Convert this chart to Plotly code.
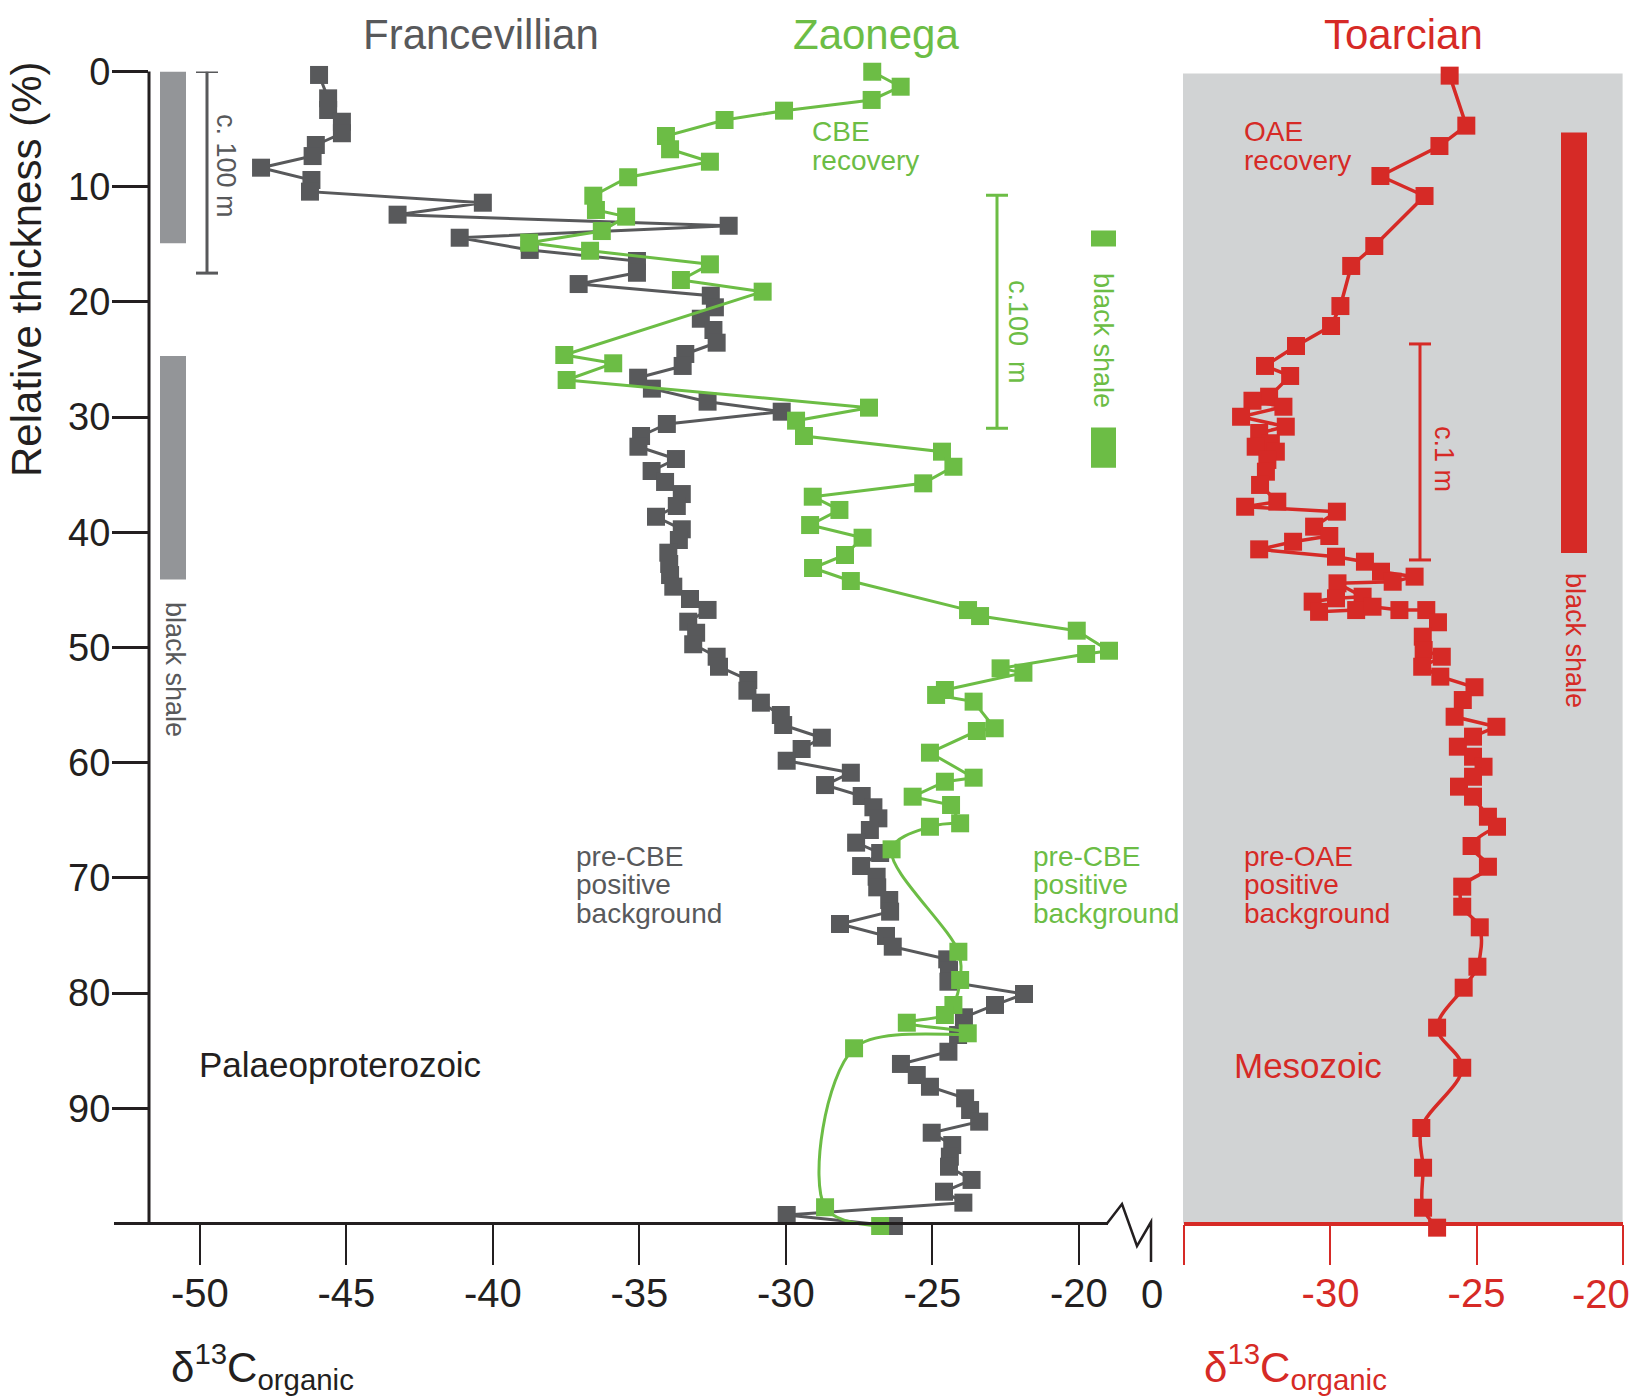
import plotly.graph_objects as go

# ---------------- data ----------------
gray_x = [-45.93,-45.62,-45.62,-45.15,-45.15,-46.04,-46.15,-47.91,-46.19,-46.24,
          -40.34,-43.25,-31.95,-41.13,-38.74,-35.08,-35.08,-37.07,-32.56,-32.42,
          -32.90,-32.47,-32.36,-33.43,-33.52,-35.04,-34.57,-32.67,-30.14,-34.06,
          -34.94,-35.03,-33.75,-34.58,-34.12,-33.55,-33.72,-34.43,-33.55,-33.65,
          -34.01,-33.98,-33.95,-33.84,-33.27,-32.67,-33.33,-33.06,-33.16,-32.36,
          -32.28,-31.28,-31.31,-30.85,-30.17,-30.09,-28.77,-29.46,-29.97,-27.78,
          -28.66,-27.41,-27.01,-26.84,-27.13,-27.60,-26.78,-27.43,-26.90,-26.88,
          -26.47,-26.44,-28.15,-26.58,-26.35,-24.49,-24.43,-24.45,-21.87,-22.86,
          -23.92,-24.12,-24.45,-26.07,-25.53,-25.08,-23.88,-23.71,-23.40,-25.02,
          -24.32,-24.40,-24.43,-23.66,-24.60,-23.94,-29.97,-26.31]
gray_y = [0.30,2.33,3.34,4.36,5.36,6.38,7.34,8.35,9.42,10.43,
          11.39,12.43,13.39,14.43,15.49,16.45,17.47,18.45,19.46,20.47,
          21.46,22.44,23.54,24.52,25.56,26.58,27.53,28.66,29.53,30.60,
          31.64,32.57,33.64,34.68,35.63,36.68,37.72,38.65,39.74,40.67,
          41.77,42.75,43.71,44.72,45.79,46.74,47.76,48.72,49.72,50.80,
          51.67,52.82,53.75,54.79,55.86,56.73,57.83,58.81,59.83,60.87,
          61.94,62.89,63.87,64.83,65.84,66.94,67.84,68.97,69.90,70.82,
          71.92,72.93,74.00,75.04,75.97,77.07,78.00,79.01,80.08,81.03,
          82.10,83.64,85.09,86.15,87.11,88.13,89.13,90.15,91.16,92.12,
          93.19,94.20,95.07,96.22,97.24,98.19,99.26,100.22]

green_x = [-27.05,-26.08,-27.07,-30.06,-32.09,-34.09,-33.95,-32.59,-35.38,-36.57,
           -36.48,-35.45,-36.28,-38.76,-36.68,-32.59,-33.58,-30.79,-37.56,-35.89,
           -37.48,-27.16,-29.65,-29.38,-24.67,-24.28,-25.31,-29.08,-28.17,-29.17,
           -27.38,-27.98,-29.07,-27.78,-23.78,-23.37,-20.07,-18.97,-19.75,-22.67,
           -21.89,-24.57,-24.87,-23.59,-22.87,-23.48,-25.08,-23.59,-24.57,-25.67,
           -24.36,-24.05,-25.08,-26.39,-24.11,-24.05,-24.28,-24.57,-25.87,-23.79,
           -27.67,-28.66,-26.78]
green_y = [0.02,1.32,2.47,3.40,4.21,5.60,6.75,7.83,9.18,10.78,
           12.02,12.60,13.85,14.86,15.56,16.74,18.10,19.11,24.61,25.33,
           26.78,29.18,30.31,31.64,33.00,34.31,35.75,36.91,38.06,39.37,
           40.47,41.97,43.10,44.23,46.75,47.27,48.54,50.28,50.56,51.81,
           52.19,53.69,54.12,54.70,57.01,57.25,59.13,61.30,61.65,62.95,
           63.67,65.26,65.56,67.52,76.41,78.86,81.03,81.90,82.57,83.49,
           84.79,98.59,100.22]

red_x = [-25.92,-25.35,-26.27,-28.29,-26.78,-28.50,-29.29,-29.66,-29.98,-31.18,
         -32.24,-31.38,-32.10,-32.67,-31.61,-33.06,-31.53,-32.44,-32.04,-32.56,
         -31.87,-32.16,-32.21,-32.41,-31.82,-32.92,
         -29.78,-30.56,-30.04,-31.28,-32.44,
         -29.81,-28.82,-28.27,-27.12,-27.87,-29.76,
         -28.90,-29.81,-30.61,-30.39,-29.12,-28.56,-27.64,-26.72,
         -26.32,-26.84,-26.81,-26.19,-26.86,-26.24,-25.07,-25.47,-25.75,-24.32,
         -25.12,-25.64,-25.12,-24.76,-25.12,-25.60,-25.12,-24.61,-24.30,-25.17,
         -24.61,-25.49,-25.49,-24.89,-24.97,-25.44,-26.35,-25.49,-26.89,-26.83,
         -26.83,-26.35]
red_y = [0.36,4.70,6.47,9.07,10.81,15.15,16.88,20.36,22.09,23.83,
         25.56,26.43,28.23,28.58,29.10,29.97,30.83,31.38,32.27,32.57,
         33.00,33.72,34.74,35.89,37.34,37.78,
         38.21,39.51,40.32,40.82,41.48,
         42.12,42.55,43.42,43.85,44.29,44.43,
         45.59,45.73,46.02,46.90,46.75,46.46,46.75,46.75,
         47.81,49.06,50.22,50.80,51.67,52.53,53.45,54.56,56.01,56.88,
         57.74,58.61,59.48,60.35,61.22,62.08,62.95,64.69,65.56,67.23,
         69.03,70.76,72.50,74.29,77.71,79.53,83.00,86.48,91.71,95.16,
         98.63,100.36]

left_ticks = [-50, -45, -40, -35, -30, -25, -20]
right_ticks = [-35, -30, -25, -20]
y_ticks = [0, 10, 20, 30, 40, 50, 60, 70, 80, 90]

gray_shale = [(0.0, 14.9), (24.7, 44.1)]
green_shale = [(13.8, 15.2), (30.9, 34.4)]
red_shale = [(5.3, 41.8)]
gray_scale = (0.0, 17.5)
green_scale = (10.75, 30.97)
red_scale = (23.65, 42.4)

# ---------------- style ----------------
W, H = 1632, 1399
GRAY = "#58595b"
GREEN = "#6cbd45"
RED = "#d62a26"
DARK = "#231f20"
SHALE_GRAY = "#939598"
BG = "#d1d3d4"
REG = "Liberation Sans, Arial, sans-serif"


def PX(x):
    return x / W


def PY(y):
    return 1 - y / H


# pixel geometry of the panels
Y_TOP, Y_BOT = 71.5, 1223.5          # y = 0 and y = 100
YPX = (Y_BOT - Y_TOP) / 100.0
Y_MAX = 101.0                         # a little room so the last squares stay visible
Y_DOM_BOT = Y_BOT + (Y_MAX - 100) * YPX
XPX = 29.3
AX_L = 149.0
X_L0 = -50 - (199.8 - AX_L) / XPX
X_R0 = -18.4
AX_R = AX_L + (X_R0 - X_L0) * XPX

fig = go.Figure()

def add_series(xs, ys, color, split, xaxis, lw):
    fig.add_trace(go.Scatter(x=xs[:split + 1], y=ys[:split + 1], mode="lines",
                             line=dict(color=color, width=lw), xaxis=xaxis, yaxis="y",
                             cliponaxis=False, showlegend=False, hoverinfo="skip"))
    fig.add_trace(go.Scatter(x=xs[split:], y=ys[split:], mode="lines",
                             line=dict(color=color, width=lw, shape="spline", smoothing=1.0),
                             xaxis=xaxis, yaxis="y",
                             cliponaxis=False, showlegend=False, hoverinfo="skip"))
    fig.add_trace(go.Scatter(x=xs, y=ys, mode="markers",
                             marker=dict(symbol="square", size=18, color=color, line=dict(width=0)),
                             xaxis=xaxis, yaxis="y",
                             cliponaxis=False, showlegend=False, hoverinfo="skip"))

add_series(gray_x, gray_y, GRAY, len(gray_x) - 1, "x", 3)
add_series(green_x, green_y, GREEN, 51, "x", 3)
add_series(red_x, red_y, RED, 63, "x2", 3.5)

shapes = []
shapes.append(dict(type="rect", xref="paper", yref="paper", x0=PX(1183), x1=PX(1622.6),
                   y0=PY(Y_BOT), y1=PY(73.5), fillcolor=BG, line=dict(width=0), layer="below"))

def shale(intervals, x0, x1, color):
    for a, b in intervals:
        shapes.append(dict(type="rect", xref="paper", yref="y", x0=PX(x0), x1=PX(x1),
                           y0=a, y1=b, fillcolor=color, line=dict(width=0), layer="above"))

shale(gray_shale, 160, 186, SHALE_GRAY)
shale(green_shale, 1091, 1116, GREEN)
shale(red_shale, 1561, 1587, RED)

def scalebar(rng, xc, color):
    a, b = rng
    shapes.append(dict(type="line", xref="paper", yref="y", x0=PX(xc), x1=PX(xc), y0=a, y1=b,
                       line=dict(color=color, width=3)))
    for v in (a, b):
        shapes.append(dict(type="line", xref="paper", yref="y", x0=PX(xc - 11), x1=PX(xc + 11),
                           y0=v, y1=v, line=dict(color=color, width=3)))

scalebar(gray_scale, 207, GRAY)
scalebar(green_scale, 997, GREEN)
scalebar(red_scale, 1420, RED)

# axis lines of the left panel (baseline with a break, vertical axis)
shapes.append(dict(type="line", xref="paper", yref="paper", x0=PX(114), x1=PX(1108),
                   y0=PY(Y_BOT), y1=PY(Y_BOT), line=dict(color=DARK, width=3)))
shapes.append(dict(type="line", xref="paper", yref="paper", x0=PX(AX_L), x1=PX(AX_L),
                   y0=PY(Y_BOT + 1.5), y1=PY(Y_TOP), line=dict(color=DARK, width=3)))
pts = [(1107, 1223.5), (1122, 1204), (1137, 1246), (1151, 1222), (1151, 1262)]
path = "M " + " L ".join(f"{PX(a):.5f},{PY(b):.5f}" for a, b in pts)
shapes.append(dict(type="path", xref="paper", yref="paper", path=path,
                   line=dict(color=DARK, width=2.5)))

ann = []

def txt(s, x, y, size, color, xanchor="left", angle=0):
    ann.append(dict(text=s, x=PX(x), y=PY(y), xref="paper", yref="paper", showarrow=False,
                    xanchor=xanchor, yanchor="middle", textangle=angle,
                    font=dict(family=REG, size=size, color=color)))

txt("Francevillian", 481, 35, 42, GRAY, "center")
txt("Zaonega", 876, 35, 42, GREEN, "center")
txt("Toarcian", 1403, 35, 42, RED, "center")
txt("Relative thickness (%)", 26, 270, 42, DARK, "center", -90)

txt("CBE", 810, 131, 28, GREEN)
txt("recovery", 810, 161, 28, GREEN)
txt("OAE", 1242, 131, 28, RED)
txt("recovery", 1242, 161, 28, RED)
offs = [0, 28, 57.5]
for i, w in enumerate(["pre-CBE", "positive", "background"]):
    txt(w, 574, 856 + offs[i], 28, GRAY)
    txt(w, 1031, 856 + offs[i], 28, GREEN)
for i, w in enumerate(["pre-OAE", "positive", "background"]):
    txt(w, 1242, 856 + offs[i], 28, RED)
txt("Palaeoproterozoic", 197, 1064, 35, DARK)
txt("Mesozoic", 1232, 1065, 35, RED)

txt("c. 100 m", 226, 166, 27, GRAY, "center", 90)
txt("black shale", 175, 669, 27, GRAY, "center", 90)
txt("c.100  m", 1018, 332, 27, GREEN, "center", 90)
txt("black shale", 1103, 340, 27, GREEN, "center", 90)
txt("c.1 m", 1444, 459, 27, RED, "center", 90)
txt("black shale", 1575, 640, 27, RED, "center", 90)

txt("0", 1152, 1294, 40, DARK, "center")
txt("-20", 1601, 1294, 40, RED, "center")
txt("δ<sup>13</sup>C<sub>organic</sub>", 169, 1366, 42, DARK, "left")
txt("δ<sup>13</sup>C<sub>organic</sub>", 1202, 1366, 42, RED, "left")

fig.update_layout(
    width=W, height=H, margin=dict(l=0, r=0, t=0, b=0, pad=0, autoexpand=False),
    paper_bgcolor="white", plot_bgcolor="rgba(0,0,0,0)",
    showlegend=False, shapes=shapes, annotations=ann,
    xaxis=dict(domain=[PX(AX_L), PX(AX_R)], range=[X_L0, X_R0], anchor="free",
               position=PY(Y_BOT), automargin=False,
               showline=False, ticks="outside", ticklen=40,
               tickwidth=2, tickcolor=DARK, tickvals=left_ticks,
               ticktext=[str(v) for v in left_ticks],
               tickfont=dict(family=REG, size=40, color=DARK), ticklabelstandoff=-6,
               showgrid=False, zeroline=False),
    xaxis2=dict(domain=[PX(1184.4), PX(1622.6)], range=[-35, -20], anchor="free",
                position=PY(Y_BOT), automargin=False,
                showline=True, linecolor=RED, linewidth=3.5, ticks="outside", ticklen=40,
                tickwidth=2, tickcolor=RED, tickvals=right_ticks,
                ticktext=["", "-30", "-25", ""],
                tickfont=dict(family=REG, size=40, color=RED), ticklabelstandoff=-6,
                showgrid=False, zeroline=False),
    yaxis=dict(domain=[PY(Y_DOM_BOT), PY(Y_TOP)], range=[Y_MAX, 0], anchor="x", automargin=False,
               showline=False, ticks="outside", ticklen=36,
               tickwidth=2.5, tickcolor=DARK, tickvals=y_ticks,
               ticktext=[str(v) for v in y_ticks],
               tickfont=dict(family=REG, size=38, color=DARK), ticklabelstandoff=-6,
               showgrid=False, zeroline=False),
)

fig.write_html("out.html", config={"displayModeBar": False},
               post_script="document.body.style.margin='0px';")
